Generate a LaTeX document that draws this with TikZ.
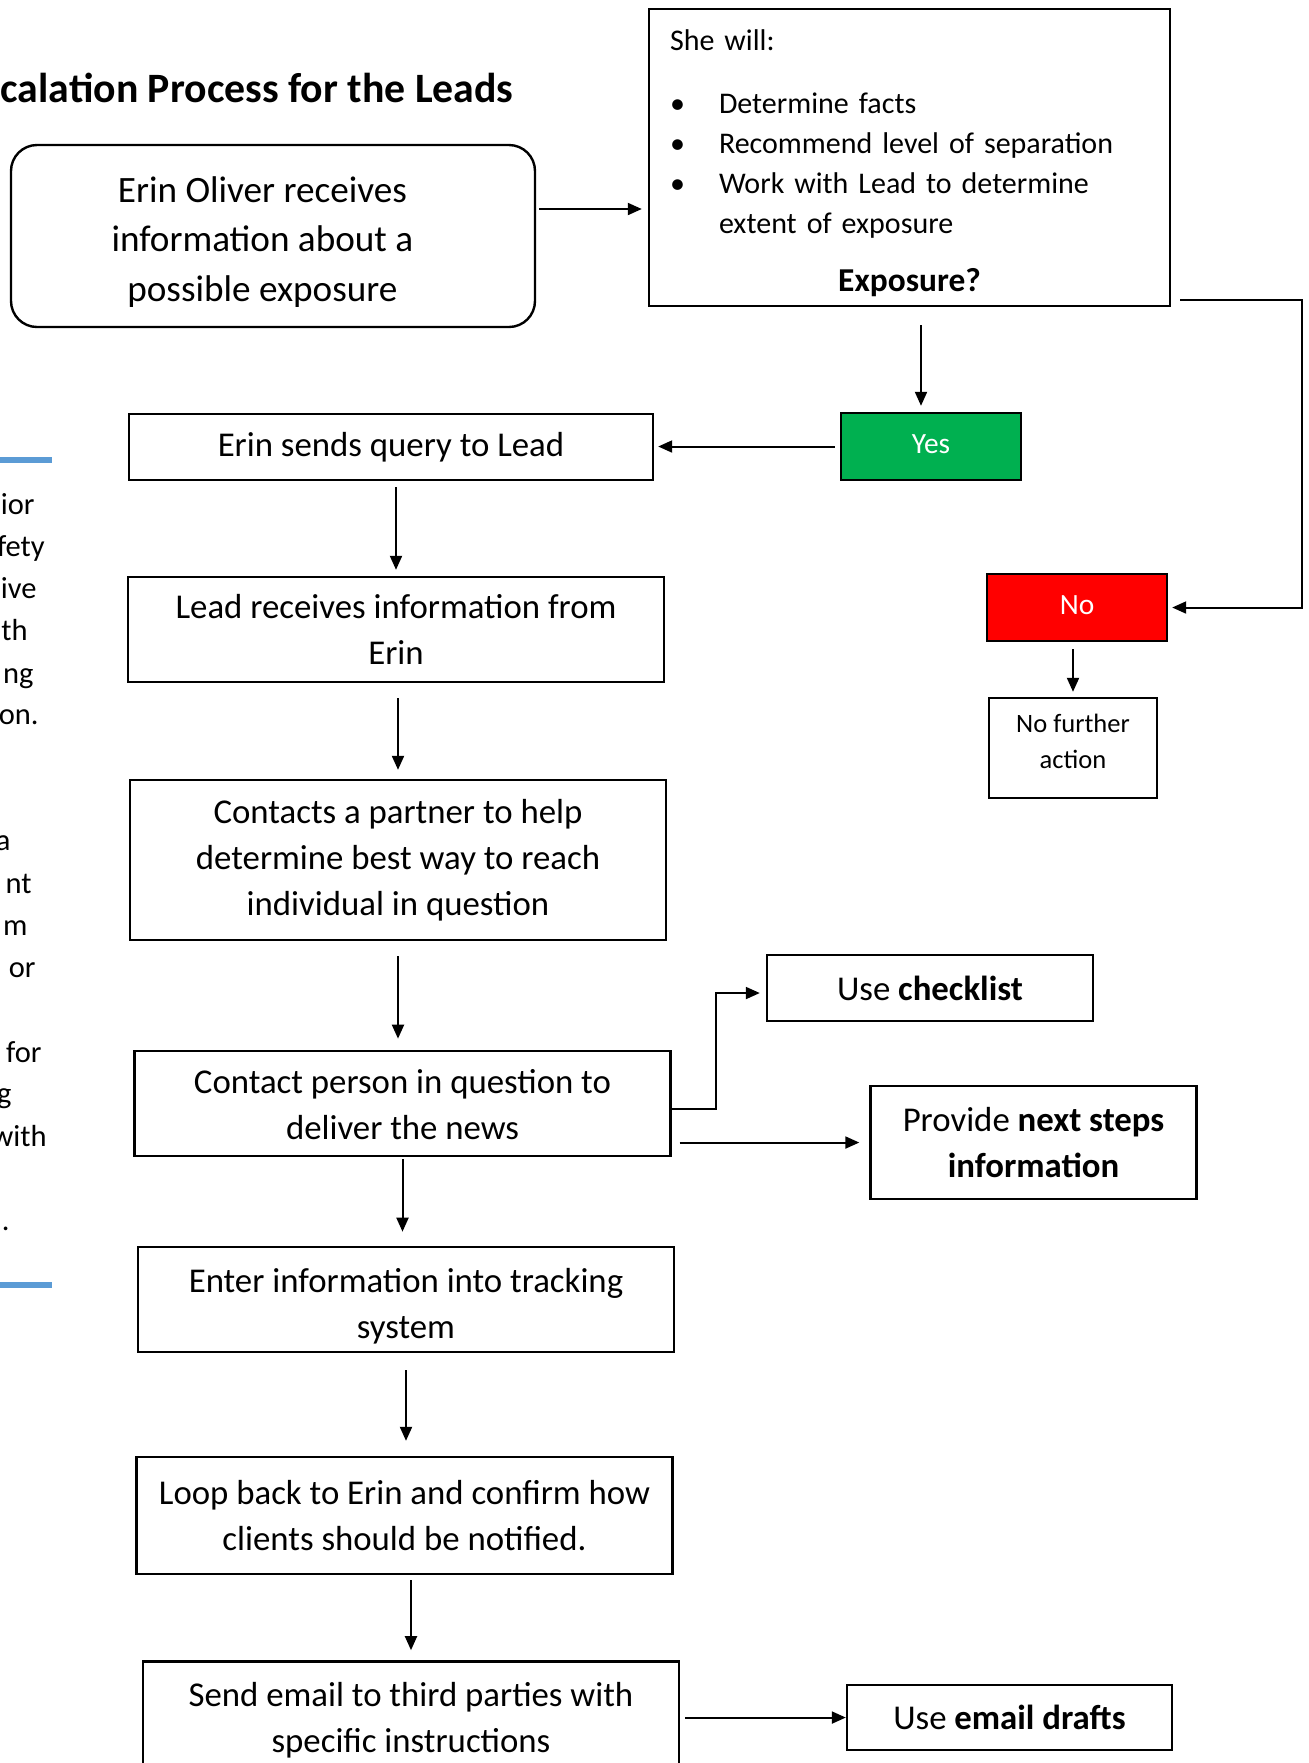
\documentclass[tikz,border=0pt]{standalone}
\usepackage{fontspec}
\setmainfont{Carlito}
\usetikzlibrary{arrows.meta}
\definecolor{yesgreen}{HTML}{00B050}
\definecolor{nored}{HTML}{FF0000}
\definecolor{barblue}{HTML}{5B9BD5}
\tikzstyle{startstop} = [rectangle, rounded corners=13pt, minimum width=262pt, minimum height=91pt, align=center, draw=black, line width=1.2pt, font=\fontsize{18.6pt}{24.75pt}\selectfont]
\tikzstyle{process} = [rectangle, minimum width=268pt, minimum height=52.5pt, align=center, draw=black, line width=1.2pt, font=\fontsize{17.4pt}{23pt}\selectfont]
\tikzstyle{sidestep} = [process, minimum width=163pt, minimum height=33pt]
\tikzstyle{checkbox} = [rectangle, minimum height=148.5pt, inner xsep=10.5pt, text width=239.5pt, align=left, draw=black, line width=1.2pt, font=\fontsize{15pt}{20pt}\selectfont]
\tikzstyle{decision} = [rectangle, minimum width=90pt, minimum height=33.5pt, draw=black, line width=1.2pt, text=white, font=\fontsize{14.7pt}{18pt}\selectfont]
\tikzstyle{note} = [rectangle, minimum width=84pt, minimum height=50pt, align=center, draw=black, line width=1.2pt, font=\fontsize{13.25pt}{18pt}\selectfont]
\tikzstyle{titletext} = [anchor=base east, inner sep=0pt, font=\fontsize{20.9pt}{25pt}\selectfont\bfseries]
\tikzstyle{sidetext} = [anchor=base east, inner sep=0pt, font=\fontsize{15.25pt}{20pt}\selectfont]
\tikzstyle{arrow} = [line width=1pt, -{Triangle[length=7pt,width=6pt]}]
% move the lines of a box a little off its centre
\newcommand{\shiftlines}[3]{\raisebox{#2}[\height][\depth]{\hspace*{#1}\begin{tabular}{@{}c@{}}#3\end{tabular}\hspace*{-#1}}}

\begin{document}
\begin{tikzpicture}[x=0.5pt, y=-0.5pt]
		\useasboundingbox (0,0) rectangle (1309,1763);
		% title and the cut-off side column
		\node (title) [titletext] at (514,102) {calation Process for the Leads};
		\draw [barblue, line width=3pt] (0,460) -- (52,460);
		\draw [barblue, line width=3pt] (0,1285) -- (52,1285);
		\node (side1) [sidetext] at (35,514) {ior};
		\node (side2) [sidetext] at (45,556) {fety};
		\node (side3) [sidetext] at (37,598) {ive};
		\node (side4) [sidetext] at (28,640) {th};
		\node (side5) [sidetext] at (34,683) {ng};
		\node (side6) [sidetext] at (39,724) {on.};
		\node (side7) [sidetext] at (11,850) {a};
		\node (side8) [sidetext] at (32,893) {nt};
		\node (side9) [sidetext] at (28,935) {m};
		\node (side10) [sidetext] at (36,977) {or};
		\node (side11) [sidetext] at (42,1062) {for};
		\node (side12) [sidetext] at (12,1103) {g};
		\node (side13) [sidetext] at (47,1146) {with};
		\node (side14) [sidetext] at (10,1230) {.};
		% boxes
		\node (start) [startstop] at (273,236) {\shiftlines{-5.3pt}{-2.8pt}{Erin Oliver receives\\information about a\\possible exposure}};
		\node (facts) [checkbox, right of = start, xshift = 289.8pt, yshift = 39.25pt] {\rule{0pt}{16.5pt}She will:\\[11.5pt]
			\makebox[24.5pt][l]{\textbullet}Determine facts\\
			\makebox[24.5pt][l]{\textbullet}Recommend level of separation\\
			\makebox[24.5pt][l]{\textbullet}Work with Lead to determine\\
			\hspace*{24.5pt}extent of exposure\\[9pt]
			\makebox[\linewidth]{\fontsize{16.7pt}{20pt}\selectfont\bfseries Exposure?}};
		\node (yes) [decision, fill=yesgreen, below of = facts, xshift = 10.75pt, yshift = -116.05pt] {\raisebox{2.8pt}{Yes}};
		\node (no) [decision, fill=nored, below of = yes, xshift = 73pt, yshift = -52.05pt] {\raisebox{2.8pt}{No}};
		\node (nfa) [note, below of = no, xshift = -2pt, yshift = -41.8pt] {\shiftlines{0pt}{2.25pt}{No further\\action}};
		\node (query) [process, minimum width=262pt, minimum height=33pt, below of = start, xshift = 59pt, yshift = -77.05pt] {Erin sends query to Lead};
		\node (lead) [process, below of = query, xshift = 2.5pt, yshift = -62.8pt] {Lead receives information from\\Erin};
		\node (contacts) [process, minimum height=80pt, below of = lead, xshift = 1pt, yshift = -86.8pt] {Contacts a partner to help\\determine best way to reach\\individual in question};
		\node (deliver) [process, below of = contacts, xshift = 2.25pt, yshift = -93.3pt] {\shiftlines{0pt}{-1.7pt}{Contact person in question to\\deliver the news}};
		\node (checklist) [sidestep, right of = deliver, xshift = 235.3pt, yshift = 57.75pt] {Use \textbf{checklist}};
		\node (next) [sidestep, minimum height=56.5pt, right of = deliver, xshift = 287.05pt, yshift = -19.5pt] {Provide \textbf{next steps}\\\textbf{information}};
		\node (enter) [process, below of = deliver, xshift = 1.75pt, yshift = -69.55pt] {\shiftlines{0pt}{-3.4pt}{Enter information into tracking\\system}};
		\node (loop) [process, minimum height=58.5pt, below of = enter, xshift = -0.75pt, yshift = -79.55pt] {Loop back to Erin and confirm how\\clients should be notified.};
		\node (send) [process, below of = loop, xshift = 3.25pt, yshift = -70.8pt] {\shiftlines{0pt}{-3.1pt}{Send email to third parties with\\specific instructions}};
		\node (drafts) [sidestep, minimum width=162.5pt, minimum height=32.5pt, right of = send, xshift = 270.8pt, yshift = -1.75pt] {Use \textbf{email drafts}};
		% connectors
		\coordinate (s1) at ([yshift=13.5pt]start.east);
		\draw [arrow, shorten <=1.5pt, shorten >=3pt] (s1) -- (s1 -| facts.west);
		\coordinate (y1) at ([xshift=-5pt]yes.north);
		\draw [arrow, shorten <=9pt, shorten >=3pt] (y1 |- facts.south) -- (y1);
		\draw [arrow, shorten <=2.5pt, shorten >=2pt] (yes.west) -- (yes.west -| query.east);
		\coordinate (f1) at ([xshift=4.5pt,yshift=3.5pt]facts.south east);
		\coordinate (n1) at ([xshift=67pt]no.east);
		\draw [arrow, shorten >=2pt] (f1) -| (n1) -- (no.east);
		\draw [arrow, shorten <=3.5pt, shorten >=2.5pt] (nfa.north |- no.south) -- (nfa.north);
		\draw [arrow, shorten <=3pt, shorten >=3pt] (lead.north |- query.south) -- (lead.north);
		\draw [arrow, shorten <=7.5pt, shorten >=4.5pt] (contacts.north |- lead.south) -- (contacts.north);
		\draw [arrow, shorten <=7.5pt, shorten >=5.5pt] (contacts.south) -- (contacts.south |- deliver.north);
		\coordinate (d1) at ([yshift=-2.75pt]deliver.east);
		\coordinate (k1) at ([yshift=-2.5pt]checklist.west);
		\draw [arrow, shorten >=3pt] (d1) -- ++(22pt,0) |- (k1);
		\draw [arrow, shorten <=4pt, shorten >=5pt] (next.west -| deliver.east) -- (next.west);
		\draw [arrow, shorten <=1pt, shorten >=7pt] (deliver.south) -- (deliver.south |- enter.north);
		\draw [arrow, shorten <=8.5pt, shorten >=7.5pt] (enter.south) -- (enter.south |- loop.north);
		\draw [arrow, shorten <=2.5pt, shorten >=5pt] (send.north |- loop.south) -- (send.north);
		\draw [arrow, shorten <=2.5pt] (drafts.west -| send.east) -- (drafts.west);
	\end{tikzpicture}
\end{document}
